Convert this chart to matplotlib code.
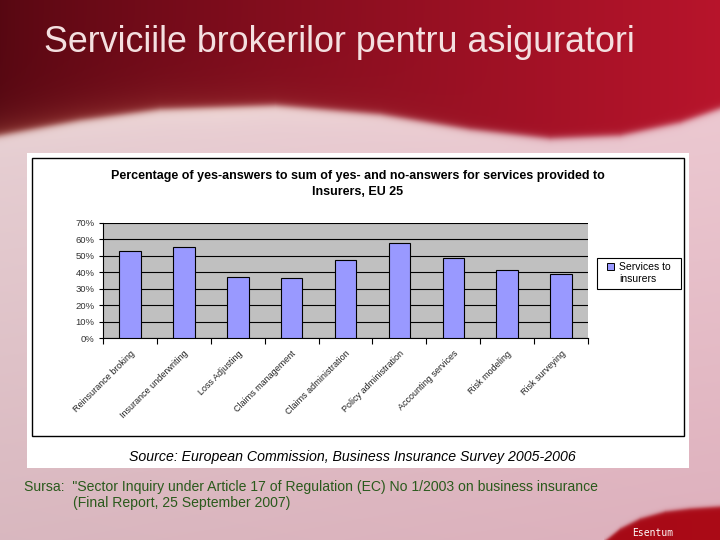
import numpy as np
import matplotlib
matplotlib.use("Agg")
import matplotlib.pyplot as plt
import matplotlib.transforms as mtransforms
from matplotlib.patches import Rectangle
from matplotlib.ticker import FixedLocator, PercentFormatter

plt.rcParams['font.family'] = ['Liberation Sans', 'DejaVu Sans']

# ---------------- data ----------------
services = ["Reinsurance broking", "Insurance underwriting", "Loss Adjusting",
            "Claims management", "Claims administration", "Policy administration",
            "Accounting services", "Risk modeling", "Risk surveying"]
yes_share = [52.8, 55.4, 36.9, 36.3, 47.5, 57.8, 48.7, 41.2, 39.0]
series_name = ["Services to", "insurers"]
slide_title = "Serviciile brokerilor pentru asiguratori"
chart_title = ("Percentage of yes-answers to sum of yes- and no-answers for services provided to\n"
               "Insurers, EU 25")
source_note = "Source: European Commission, Business Insurance Survey 2005-2006"
sursa_lines = ["Sursa:  \"Sector Inquiry under Article 17 of Regulation (EC) No 1/2003 on business insurance",
               "(Final Report, 25 September 2007)"]

W, H = 720, 540
BAR_COLOR = '#9999ff'
fig = plt.figure(figsize=(7.2, 5.4), dpi=100)

# ---------------- slide background ----------------
bg = fig.add_axes([0, 0, 1, 1])
bg.set_xlim(0, W)
bg.set_ylim(H, 0)
bg.axis('off')

yy, xx = np.mgrid[0:H, 0:W].astype(float)
wave = np.interp(xx[0], [0, 80, 160, 275, 380, 470, 550, 620, 680, 720],
                 [135, 120, 109, 105, 114, 129, 138, 135, 122, 108])
t = (xx / W) ** 0.8
red_l = np.array([0.34, 0.03, 0.07])
red_r = np.array([0.72, 0.08, 0.17])
red = red_l + (red_r - red_l) * t[..., None]
# warm glow above the wave on the left
above = np.clip((wave[None, :] - yy), 0, None)
warm = np.exp(-above / 14) * np.clip(1 - xx / 520, 0, 1) * 0.45
red = red * (1 - warm[..., None]) + np.array([0.78, 0.42, 0.32]) * warm[..., None]

pink_top = np.array([0.92, 0.84, 0.85])
pink_bot = np.array([0.85, 0.72, 0.75])
pink = pink_top + (pink_bot - pink_top) * (yy / H)[..., None]
pink = pink + np.array([0.02, -0.03, -0.01]) * (xx / W)[..., None]
below = np.clip(yy - wave[None, :], 0, None)
glow = np.exp(-below / 10) * np.clip(1 - np.abs(xx - 220) / 330, 0, 1) * 0.6
pink = pink * (1 - glow[..., None]) + np.array([0.99, 0.93, 0.88]) * glow[..., None]

m = 1 / (1 + np.exp(-(yy - wave[None, :]) / 2.0))
img = red * (1 - m[..., None]) + pink * m[..., None]

# swoosh bottom right
sw = np.interp(xx[0], [604, 620, 640, 665, 690, 720], [541, 528, 518, 511, 508, 506])
sw[xx[0] < 604] = 1e9
ms = 1 / (1 + np.exp(-(yy - sw[None, :]) / 1.2))
swc = np.array([0.55, 0.02, 0.05]) + np.array([0.12, 0.02, 0.04]) * (xx / W)[..., None]
img = img * (1 - ms[..., None]) + swc * ms[..., None]

bg.imshow(np.clip(img, 0, 1), extent=[0, W, H, 0], aspect='auto', zorder=0)

bg.text(44, 42, slide_title, fontsize=25.8, color='#f4e0e0', va='center', ha='left')
bg.text(632, 533, "Esentum", fontsize=7, color='white', family='DejaVu Sans Mono',
        va='center', ha='left')
bg.text(24, 487, sursa_lines[0], fontsize=10.1, color='#2a5a1c', va='center', ha='left')
bg.text(73, 503, sursa_lines[1], fontsize=10.1, color='#2a5a1c', va='center', ha='left')

# chart picture
bg.add_patch(Rectangle((27, 153), 662, 315, facecolor='white', edgecolor='none', zorder=1))
bg.add_patch(Rectangle((32, 158), 652, 278, facecolor='white', edgecolor='black',
                       linewidth=1.0, zorder=2))
bg.text(358, 184, chart_title, fontsize=9, fontweight='bold', ha='center', va='center',
        linespacing=1.5, zorder=3)
bg.text(352, 457, source_note, fontsize=10.2, style='italic', ha='center', va='center', zorder=3)

# legend box (Excel style)
bg.add_patch(Rectangle((597, 258), 84, 31, facecolor='white', edgecolor='black',
                       linewidth=0.8, zorder=3))
bg.add_patch(Rectangle((607, 263), 7, 7, facecolor=BAR_COLOR, edgecolor='black',
                       linewidth=0.7, zorder=4))
bg.text(619, 266.5, series_name[0], fontsize=7.5, ha='left', va='center', zorder=4)
bg.text(619, 278.5, series_name[1], fontsize=7.5, ha='left', va='center', zorder=4)

# ---------------- bar chart ----------------
ax = fig.add_axes([103 / W, 1 - 338 / H, 485 / W, 115 / H])
ax.set_facecolor('#c0c0c0')
x = np.arange(len(services))
ax.bar(x, yes_share, width=0.4, color=BAR_COLOR, edgecolor='black', linewidth=0.8, zorder=3)
ax.set_xlim(-0.5, len(services) - 0.5)
ax.set_ylim(0, 70)
ax.yaxis.set_major_locator(FixedLocator(np.arange(0, 71, 10)))
ax.yaxis.set_major_formatter(PercentFormatter(decimals=0))
ax.grid(axis='y', color='black', linewidth=0.8, zorder=1)
ax.set_axisbelow(True)
ax.set_xticks(x)
ax.set_xticklabels(services, rotation=45, ha='right', rotation_mode='anchor', fontsize=6.5,
                   color='#222222')
shift = mtransforms.ScaledTranslation(-8 / 100, 0, fig.dpi_scale_trans)
for lab in ax.get_xticklabels():
    lab.set_transform(lab.get_transform() + shift)
ax.set_xticks(np.arange(-0.5, len(services)), minor=True)
ax.tick_params(axis='x', which='major', length=0, pad=8)
ax.tick_params(axis='x', which='minor', length=4, width=0.8, direction='out')
ax.tick_params(axis='y', length=3, width=0.8, labelsize=6.8, labelcolor='#333333', pad=3)
for s in ['top', 'right']:
    ax.spines[s].set_visible(False)
for s in ['left', 'bottom']:
    ax.spines[s].set_linewidth(0.8)

fig.savefig("out.png", dpi=100)
